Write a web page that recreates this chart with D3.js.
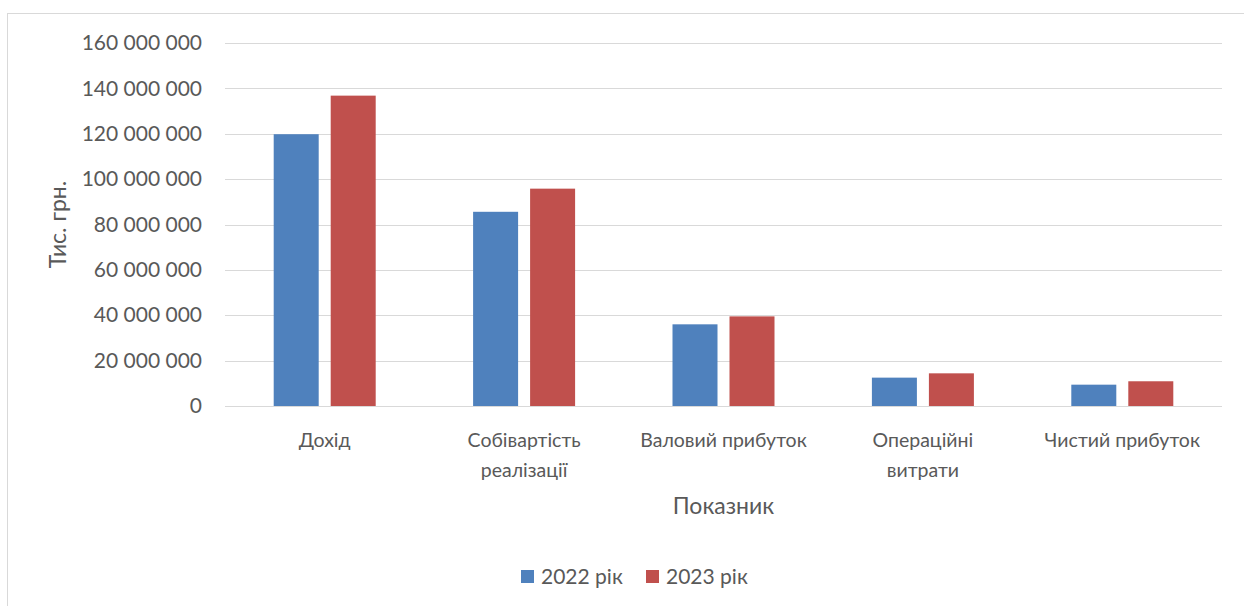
<!DOCTYPE html>
<html>
<head>
<meta charset="utf-8">
<script src="https://cdn.jsdelivr.net/npm/d3@7"></script>
<style>
  html, body { margin: 0; padding: 0; background: #fff; }
  svg { display: block; }
  text { font-family: Lato, "Open Sans", sans-serif; fill: #595959; }
</style>
</head>
<body>
<svg id="chart" width="1244" height="606"></svg>
<script>
const categories = [
  ["Дохід"],
  ["Собівартість", "реалізації"],
  ["Валовий прибуток"],
  ["Операційні", "витрати"],
  ["Чистий прибуток"]
];
const seriesNames = ["2022 рік", "2023 рік"];
const values2022 = [119800000, 85600000, 36000000, 12500000, 9400000];
const values2023 = [136800000, 95800000, 39500000, 14400000, 10900000];
const yTicks = [0, 20000000, 40000000, 60000000, 80000000, 100000000, 120000000, 140000000, 160000000];
const colors = ["#4F81BD", "#C0504D"];

const svg = d3.select("#chart");
const W = 1244, H = 606;
const plot = { left: 225, right: 1222, top: 43, bottom: 406 };

// chart border
svg.append("rect")
  .attr("x", 7.5).attr("y", 13.5)
  .attr("width", W + 20).attr("height", H + 20)
  .attr("fill", "none").attr("stroke", "#d9d9d9").attr("stroke-width", 1);

const catKeys = categories.map(c => c.join(" "));
const x0 = d3.scaleBand().domain(catKeys).range([plot.left, plot.right]).padding(0);
const x1 = d3.scaleBand().domain(seriesNames).range([0, 102]).paddingInner(12 / 57).paddingOuter(0);
const y = d3.scaleLinear().domain([0, 160000000]).range([plot.bottom, plot.top]);

const fmt = v => d3.format(",")(v).replace(/,/g, " ");

// gridlines
svg.append("g")
  .selectAll("line").data(yTicks).join("line")
  .attr("x1", plot.left).attr("x2", plot.right)
  .attr("y1", d => Math.round(y(d)) + 0.5).attr("y2", d => Math.round(y(d)) + 0.5)
  .attr("stroke", "#d9d9d9").attr("stroke-width", 1);

// y axis labels
const yAxis = d3.axisLeft(y).tickValues(yTicks).tickFormat(fmt).tickSize(0).tickPadding(23);
const gy = svg.append("g").attr("transform", `translate(${plot.left},0)`).call(yAxis);
gy.select(".domain").remove();
gy.selectAll("text").style("font-size", "21px").attr("fill", "#595959").attr("font-family", "Lato");

// bars
const groupOffset = (x0.bandwidth() - 102) / 2;
const data = catKeys.map((k, i) => ({ key: k, vals: [values2022[i], values2023[i]] }));
const g = svg.append("g");
data.forEach(d => {
  seriesNames.forEach((s, j) => {
    g.append("rect")
      .attr("x", x0(d.key) + groupOffset + x1(s))
      .attr("y", y(d.vals[j]))
      .attr("width", x1.bandwidth())
      .attr("height", y(0) - y(d.vals[j]))
      .attr("fill", colors[j]);
  });
});

// category labels
categories.forEach((lines, i) => {
  const cx = x0(catKeys[i]) + x0.bandwidth() / 2;
  const t = svg.append("text").attr("text-anchor", "middle").style("font-size", "19.5px");
  lines.forEach((ln, li) => {
    t.append("tspan").attr("x", cx).attr("y", 447 + li * 30).text(ln);
  });
});

// axis titles
svg.append("text").attr("x", (plot.left + plot.right) / 2).attr("y", 514)
  .attr("text-anchor", "middle").style("font-size", "23px").text("Показник");
svg.append("text").attr("transform", `translate(66,${(plot.top + plot.bottom) / 2}) rotate(-90)`)
  .attr("text-anchor", "middle").style("font-size", "23px").text("Тис. грн.");

// legend
const legend = svg.append("g");
const legendItems = [{ x: 521, tx: 541 }, { x: 646, tx: 666 }];
seriesNames.forEach((s, j) => {
  legend.append("rect").attr("x", legendItems[j].x).attr("y", 570).attr("width", 13).attr("height", 13).attr("fill", colors[j]);
  legend.append("text").attr("x", legendItems[j].tx).attr("y", 584).style("font-size", "21px").text(s);
});
</script>
</body>
</html>
